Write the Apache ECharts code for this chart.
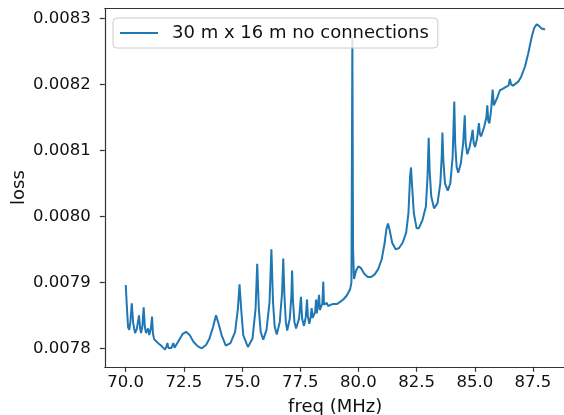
<!DOCTYPE html>
<html>
<head>
<meta charset="utf-8">
<script src="https://cdn.jsdelivr.net/npm/echarts@6/dist/echarts.min.js"></script>
<style>html,body{margin:0;padding:0;background:#fff}#c{width:564px;height:415px}</style>
</head>
<body>
<div id="c"></div>
<script>
const seriesName = '30 m x 16 m no connections';
const xTicks = [70.0, 72.5, 75.0, 77.5, 80.0, 82.5, 85.0, 87.5];
const yTicks = [0.0078, 0.0079, 0.0080, 0.0081, 0.0082, 0.0083];
const freq = [
70.00,70.05,70.10,70.15,70.20,70.26,70.32,70.40,70.48,70.57,70.62,70.66,70.72,70.77,70.82,70.87,70.96,71.01,71.08,71.13,
71.17,71.22,71.33,71.45,71.55,71.69,71.75,71.79,71.83,71.87,71.95,72.05,72.10,72.15,72.25,72.35,72.45,72.59,72.75,72.91,
73.10,73.27,73.45,73.60,73.75,73.88,74.00,74.12,74.30,74.50,74.70,74.82,74.89,74.96,75.05,75.25,75.45,75.58,75.65,75.72,
75.80,75.91,76.05,76.18,76.26,76.33,76.40,76.49,76.62,76.72,76.77,76.82,76.88,76.94,77.05,77.12,77.15,77.19,77.25,77.32,
77.45,77.53,77.58,77.66,77.74,77.79,77.83,77.89,77.95,77.99,78.03,78.07,78.14,78.18,78.21,78.25,78.31,78.34,78.39,78.45,
78.49,78.52,78.56,78.64,78.70,78.80,78.92,79.07,79.20,79.35,79.50,79.64,79.70,79.74,79.77,79.81,79.90,80.00,80.10,80.25,
80.40,80.55,80.70,80.85,81.00,81.12,81.20,81.27,81.35,81.45,81.60,81.75,81.90,82.05,82.15,82.22,82.26,82.30,82.38,82.50,
82.60,82.75,82.90,82.97,83.02,83.06,83.13,83.25,83.40,83.52,83.58,83.61,83.65,83.72,83.84,83.95,84.05,84.12,84.16,84.22,
84.29,84.40,84.50,84.57,84.61,84.68,84.78,84.86,84.91,84.95,85.01,85.10,85.18,85.22,85.27,85.40,85.50,85.54,85.58,85.63,
85.70,85.77,85.82,85.87,85.97,86.08,86.20,86.34,86.45,86.51,86.56,86.65,86.87,87.00,87.16,87.30,87.45,87.55,87.66,87.75,
87.85,88.02
];
const loss = [
0.007896,0.007862,0.007832,0.007828,0.007840,0.007868,0.007838,0.007823,0.007830,0.007850,0.007830,0.007823,0.007835,0.007862,0.007833,0.007823,0.007830,0.007820,0.007830,0.007848,
0.007822,0.007814,0.007810,0.007806,0.007803,0.007798,0.007803,0.007808,0.007801,0.007798,0.007800,0.007808,0.007801,0.007801,0.007810,0.007816,0.007822,0.007825,0.007820,0.007810,
0.007803,0.007800,0.007805,0.007815,0.007832,0.007850,0.007836,0.007820,0.007804,0.007808,0.007825,0.007860,0.007897,0.007860,0.007820,0.007802,0.007815,0.007860,0.007928,0.007860,
0.007825,0.007813,0.007828,0.007870,0.007950,0.007870,0.007833,0.007821,0.007840,0.007885,0.007936,0.007880,0.007840,0.007827,0.007845,0.007880,0.007918,0.007870,0.007840,0.007830,
0.007845,0.007878,0.007845,0.007834,0.007848,0.007874,0.007848,0.007837,0.007848,0.007861,0.007846,0.007843,0.007855,0.007874,0.007853,0.007850,0.007881,0.007858,0.007855,0.007868,
0.007901,0.007866,0.007863,0.007869,0.007864,0.007866,0.007867,0.007867,0.007870,0.007874,0.007880,0.007889,0.007900,0.008270,0.007950,0.007905,0.007918,0.007924,0.007922,0.007913,
0.007908,0.007908,0.007912,0.007920,0.007935,0.007958,0.007980,0.007989,0.007978,0.007960,0.007950,0.007952,0.007960,0.007975,0.008005,0.008060,0.008074,0.008050,0.008005,0.007982,
0.007982,0.007994,0.008015,0.008060,0.008119,0.008070,0.008030,0.008012,0.008020,0.008050,0.008090,0.008127,0.008085,0.008050,0.008039,0.008050,0.008090,0.008174,0.008110,0.008075,
0.008066,0.008080,0.008110,0.008153,0.008110,0.008094,0.008105,0.008120,0.008131,0.008112,0.008105,0.008118,0.008141,0.008125,0.008121,0.008135,0.008150,0.008168,0.008145,0.008141,
0.008160,0.008192,0.008168,0.008166,0.008180,0.008191,0.008193,0.008196,0.008198,0.008208,0.008200,0.008198,0.008204,0.008212,0.008227,0.008247,0.008272,0.008285,0.008291,0.008289,
0.008285,0.008283
];

const chart = echarts.init(document.getElementById('c'), null, {renderer: 'canvas'});
const font = 'DejaVu Sans';
const axisColor = '#333';
const fs = 18;
const tfs = 16.5;
chart.setOption({
  animation: false,
  backgroundColor: '#fff',
  textStyle: {fontFamily: font},
  grid: {left: 104.8, top: 8.4, width: 460.7, height: 358.4, show: false, containLabel: false, outerBoundsMode: 'none'},
  legend: {
    show: true,
    left: 113, top: 18,
    padding: [6, 9, 6, 7],
    backgroundColor: 'rgba(255,255,255,0.8)',
    borderColor: '#cccccc', borderWidth: 1, borderRadius: 4,
    icon: 'rect', itemWidth: 38, itemHeight: 2,
    textStyle: {fontFamily: font, fontSize: fs, color: '#111', padding: [0, 0, 0, 9]},
    data: [seriesName]
  },
  xAxis: [{
    type: 'value', min: 69.1, max: 88.9,
    name: 'freq (MHz)', nameLocation: 'middle', nameGap: 32, nameMoveOverlap: false,
    nameTextStyle: {fontFamily: font, fontSize: fs, color: '#111'},
    axisLine: {show: true, onZero: false, lineStyle: {color: axisColor, width: 1.2}},
    axisTick: {show: true, inside: false, length: 5, customValues: xTicks, lineStyle: {color: axisColor, width: 1.2}},
    axisLabel: {show: true, margin: 7, customValues: xTicks, fontFamily: font, fontSize: tfs, color: '#111',
      formatter: v => v.toFixed(1)},
    splitLine: {show: false}
  }, {
    type: 'value', min: 69.1, max: 88.9, position: 'top',
    axisLine: {show: true, onZero: false, lineStyle: {color: axisColor, width: 1.2}},
    axisTick: {show: false}, axisLabel: {show: false}, splitLine: {show: false}
  }],
  yAxis: {
    type: 'value', min: 0.007772, max: 0.008315,
    name: 'loss', nameLocation: 'middle', nameGap: 76, nameRotate: 90, nameMoveOverlap: false,
    nameTextStyle: {fontFamily: font, fontSize: fs, color: '#111'},
    axisLine: {show: true, onZero: false, lineStyle: {color: axisColor, width: 1.2}},
    axisTick: {show: true, inside: false, length: 5, customValues: yTicks, lineStyle: {color: axisColor, width: 1.2}},
    axisLabel: {show: true, margin: 14, customValues: yTicks, fontFamily: font, fontSize: tfs, color: '#111',
      formatter: v => v.toFixed(4)},
    splitLine: {show: false}
  },
  series: [{
    name: seriesName,
    type: 'line',
    xAxisIndex: 0,
    data: freq.map((f, i) => [f, loss[i]]),
    showSymbol: false,
    symbol: 'none',
    lineStyle: {color: '#1f77b4', width: 2},
    itemStyle: {color: '#1f77b4'},
    z: 1
  }]
});
</script>
</body>
</html>
